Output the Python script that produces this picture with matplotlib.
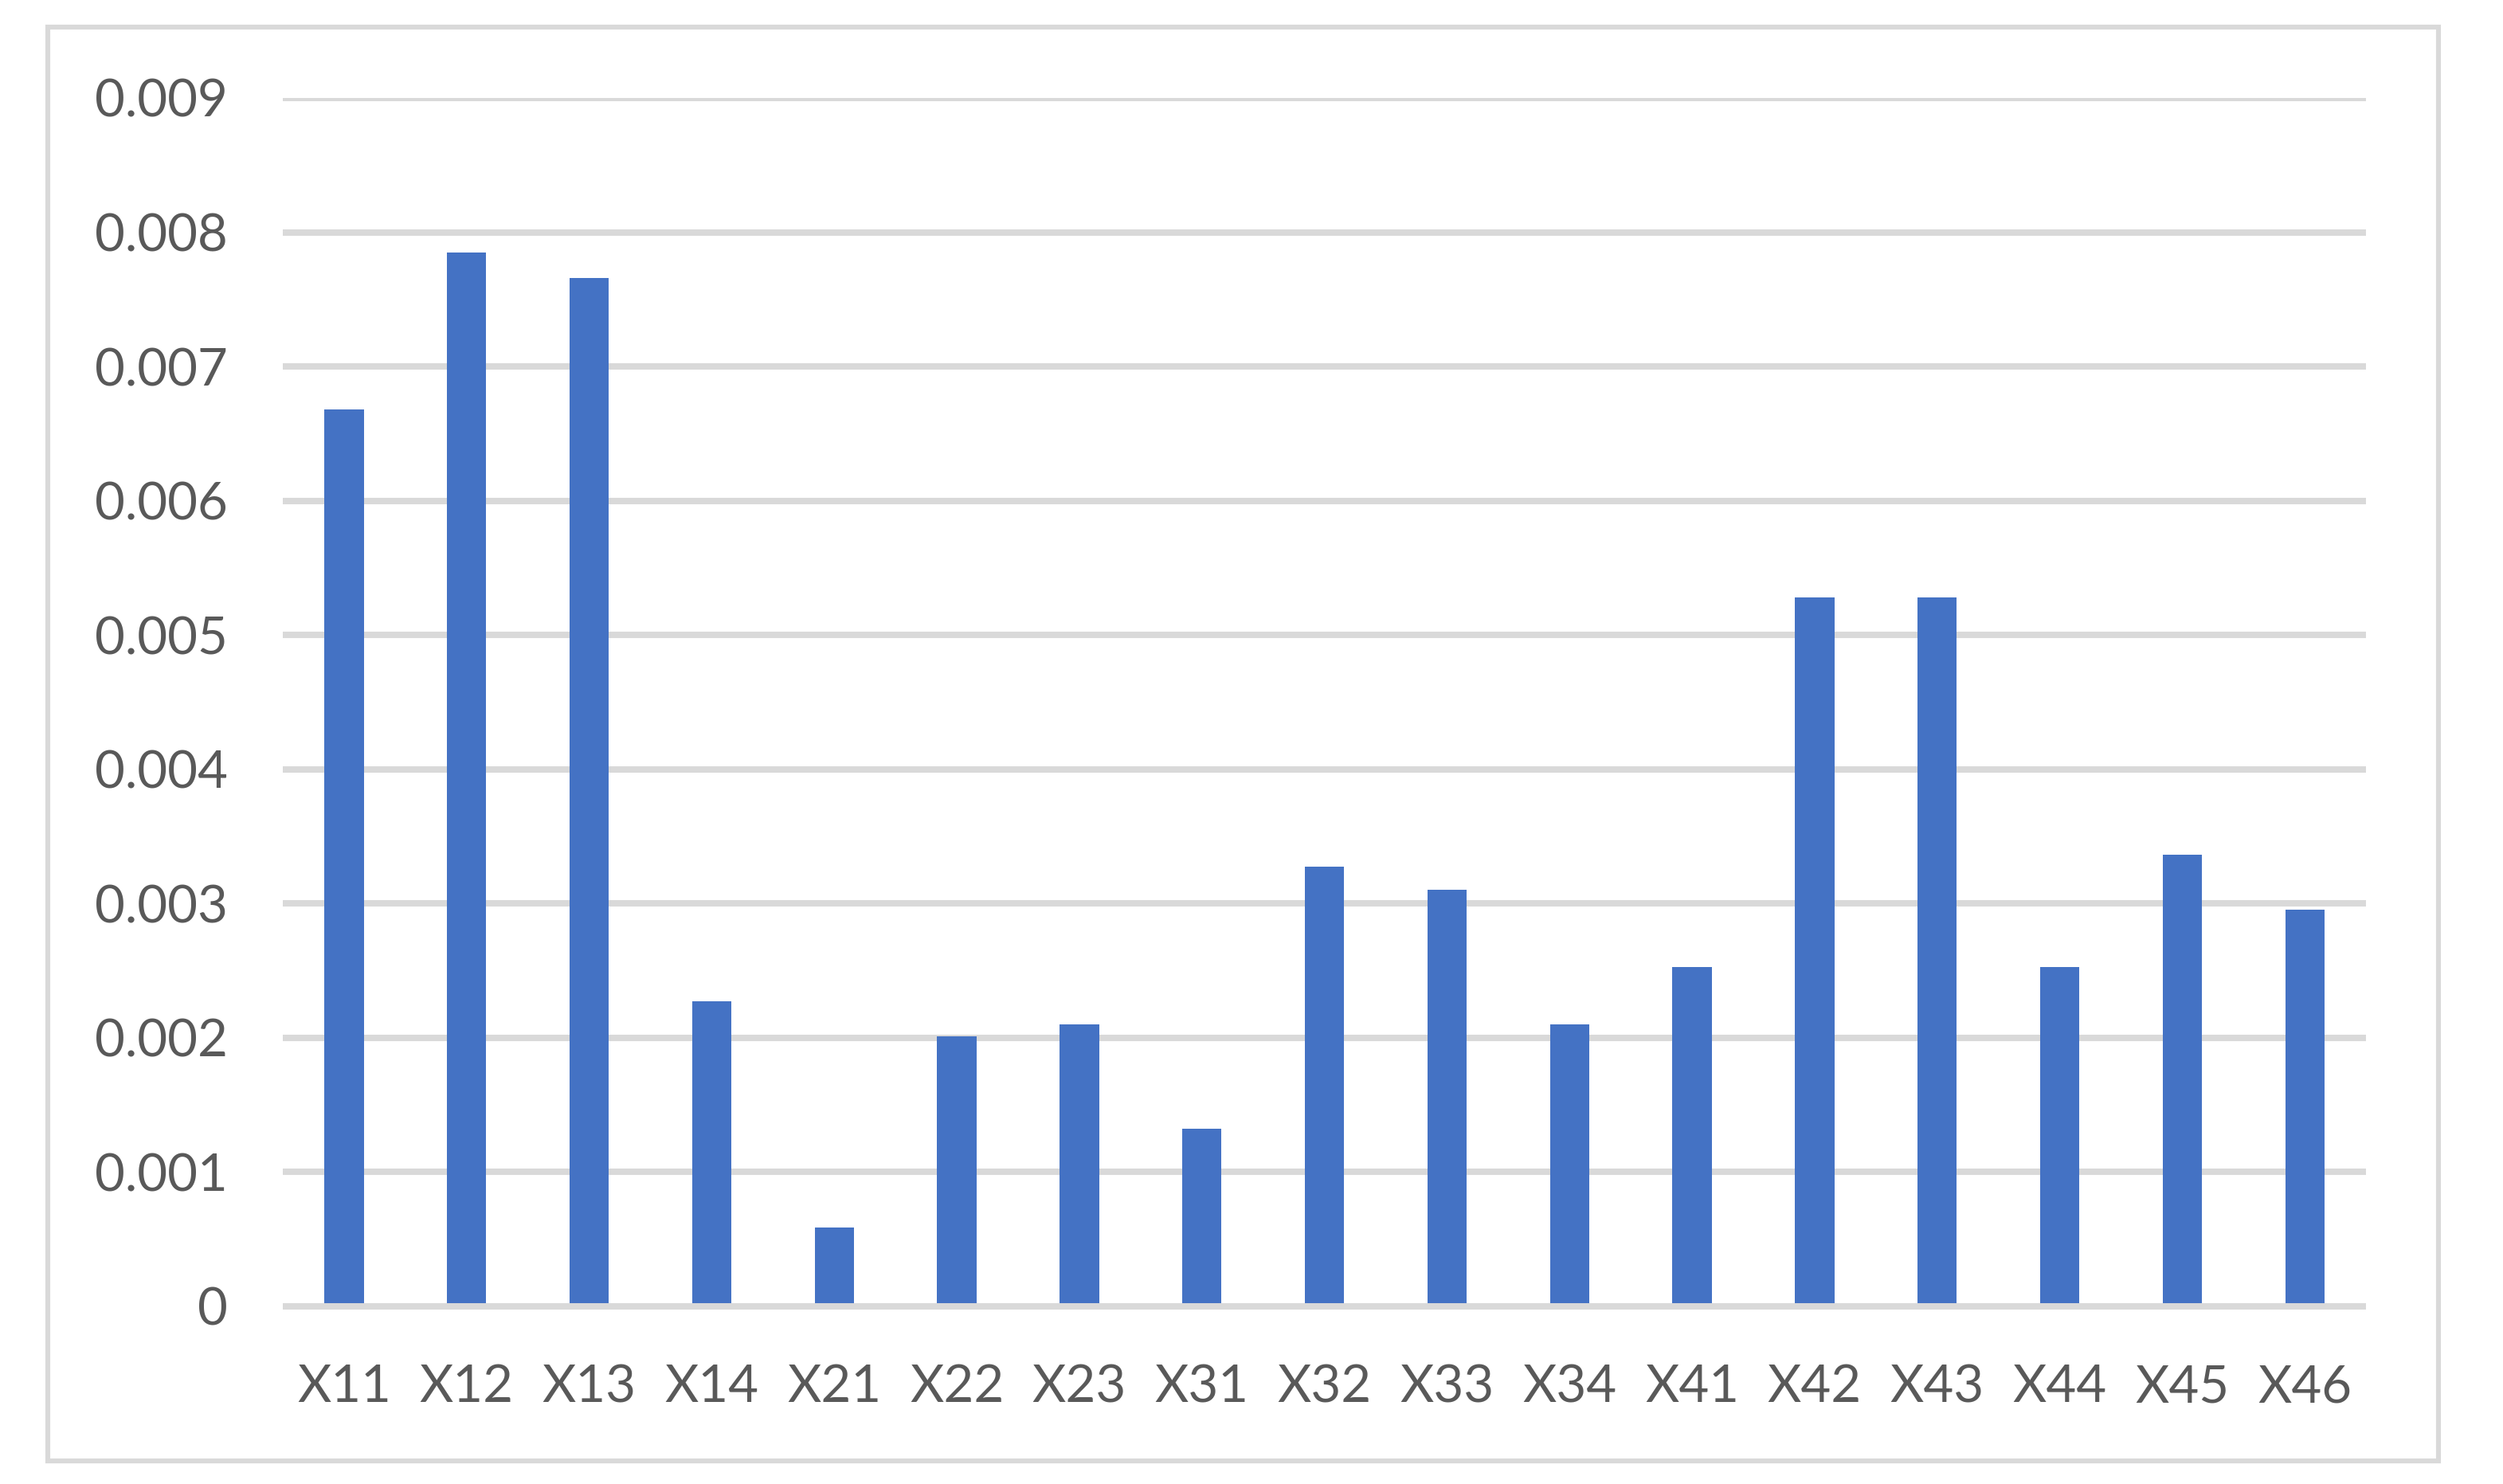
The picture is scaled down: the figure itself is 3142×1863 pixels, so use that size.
import numpy as np
import matplotlib
matplotlib.use('Agg')
from matplotlib import pyplot as plt
from matplotlib.patches import Rectangle

# valores
categorias = ['X11', 'X12', 'X13', 'X14', 'X21', 'X22', 'X23', 'X31', 'X32',
              'X33', 'X34', 'X41', 'X42', 'X43', 'X44', 'X45', 'X46']
pesos = [0.00668, 0.00785, 0.00766, 0.002275, 0.00059, 0.00201, 0.0021,
         0.00132, 0.003275, 0.0031, 0.0021, 0.00253, 0.00528, 0.00528,
         0.00253, 0.003365, 0.002955]
yticks = [0, 0.001, 0.002, 0.003, 0.004, 0.005, 0.006, 0.007, 0.008, 0.009]
ytick_labels = ['0', '0.001', '0.002', '0.003', '0.004', '0.005', '0.006',
                '0.007', '0.008', '0.009']

azul = '#4472C4'
cinza = '#D9D9D9'
texto = '#595959'

plt.rcParams['font.family'] = ['Lato', 'DejaVu Sans']

fig = plt.figure(figsize=(15.71, 9.315), dpi=200)
ax = fig.add_axes([0.113, 0.1197, 0.8323, 0.8143])

x = np.arange(len(categorias))
ax.bar(x, pesos, width=0.32, color=azul, zorder=3)

ax.set_xlim(-0.5, len(categorias) - 0.5)
ax.set_ylim(0, 0.009)
ax.set_xticks(x)
ax.set_xticklabels(categorias)
ax.set_yticks(yticks)
ax.set_yticklabels(ytick_labels)

# grade horizontal
ax.yaxis.grid(True, color=cinza, linewidth=2.9, zorder=0)
ax.set_axisbelow(True)
for s in ['top', 'right', 'left']:
    ax.spines[s].set_visible(False)
ax.spines['bottom'].set_color(cinza)
ax.spines['bottom'].set_linewidth(2.9)
ax.spines['bottom'].set_capstyle('butt')
ax.spines['bottom'].set_zorder(4)

ax.tick_params(axis='both', length=0, labelsize=23.5, labelcolor=texto)
ax.tick_params(axis='y', pad=25)
ax.tick_params(axis='x', pad=26)

# moldura do grafico
moldura = Rectangle((0.01925, 0.01557), 0.9742 - 0.01925, 0.982 - 0.01557,
                    transform=fig.transFigure, fill=False,
                    edgecolor=cinza, linewidth=2.2)
fig.patches.append(moldura)

fig.savefig('out.png', dpi=200, facecolor='white')
